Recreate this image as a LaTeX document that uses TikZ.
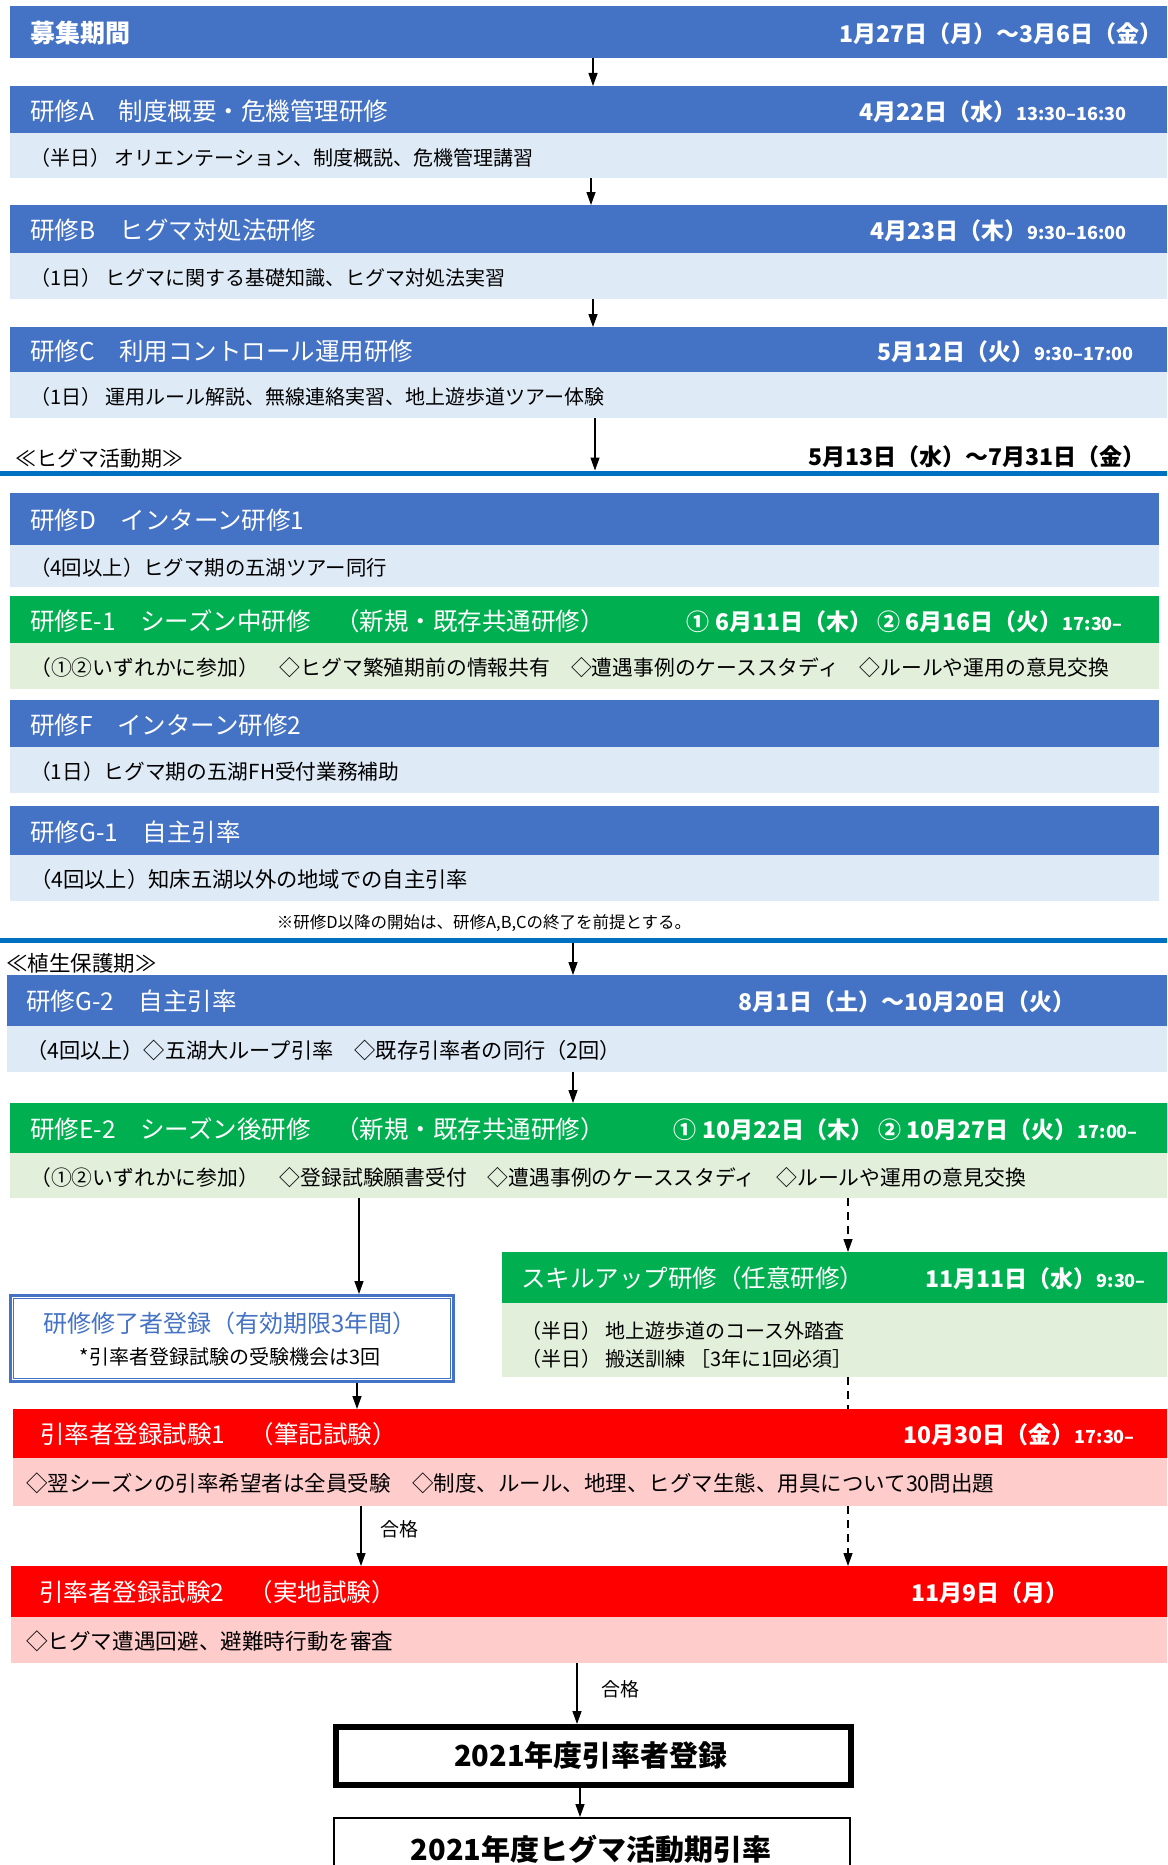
\documentclass[tikz,border=0pt]{standalone}
\usepackage{fontspec}
\setmainfont{Noto Sans CJK JP}
\usetikzlibrary{arrows.meta}
\definecolor{hblue}{HTML}{4472C4}
\definecolor{lblue}{HTML}{DEEAF6}
\definecolor{hgreen}{HTML}{00B050}
\definecolor{lgreen}{HTML}{E2EFDA}
\definecolor{hred}{HTML}{FF0000}
\definecolor{lred}{HTML}{FFCCCC}
\definecolor{sepblue}{HTML}{0070C0}
\newcommand\smalltime[1]{{\fontsize{18}{20}\selectfont #1}}
\newcommand\bodysize[1]{\fontsize{#1}{24}\selectfont}
\tikzset{
  bar/.style={anchor=north west, inner sep=0pt, outer sep=0pt, draw=none},
  titletext/.style={anchor=west, text=white, font=\fontsize{24.5}{28}\selectfont, inner sep=0pt, yshift=-1.5pt},
  datetext/.style={anchor=east, text=white, font=\bfseries\fontsize{23}{27}\selectfont, inner sep=0pt, yshift=-1.5pt},
  bodytext/.style={anchor=west, font=\fontsize{20}{24}\selectfont, inner sep=0pt, yshift=-1.5pt},
  arr/.style={-{Triangle[length=13pt,width=9pt]}, line width=1.3pt},
  dashline/.style={line width=1.3pt, dash pattern=on 8pt off 6pt},
  passlabel/.style={font=\fontsize{19}{22}\selectfont, inner sep=0pt}
}
\begin{document}
\begin{tikzpicture}[x=1pt,y=-1pt]
\useasboundingbox (0,0) rectangle (1167,1865);
\clip (0,0) rectangle (1167,1865);

% ---------- column coordinates ----------
\coordinate (c593) at (593,0);
\coordinate (c591) at (591,0);
\coordinate (c595) at (595,0);
\coordinate (c573) at (573,0);
\coordinate (c359) at (359,0);
\coordinate (c357) at (357,0);
\coordinate (c361) at (361,0);
\coordinate (c848) at (848,0);
\coordinate (c577) at (577,0);
\coordinate (c580) at (580,0);

% ---------- recruitment ----------
\node[bar, fill=hblue, minimum width=1157pt, minimum height=52pt] (recruit) at (10,6) {};
\node[titletext, font=\bfseries\fontsize{25}{28}\selectfont] (recruitT) at (30,32) {募集期間};
\node[datetext] (recruitD) at (1163,32) {1月27日（月）～3月6日（金）};

% ---------- A ----------
\node[bar, fill=hblue, minimum width=1157pt, minimum height=47pt] (Ah) at (10,86) {};
\node[bar, fill=lblue, minimum width=1157pt, minimum height=45pt] (Ab) at (10,133) {};
\node[titletext] (AhT) at (30,110) {研修A　制度概要・危機管理研修};
\node[datetext] (AhD) at (1127,110) {4月22日（水）\smalltime{13:30–16:30}};
\node[bodytext] (AbT) at (30,156) {（半日） オリエンテーション、制度概説、危機管理講習};

% ---------- B ----------
\node[bar, fill=hblue, minimum width=1157pt, minimum height=48pt] (Bh) at (10,205) {};
\node[bar, fill=lblue, minimum width=1157pt, minimum height=46pt] (Bb) at (10,253) {};
\node[titletext] (BhT) at (30,229) {研修B　ヒグマ対処法研修};
\node[datetext] (BhD) at (1127,229) {4月23日（木）\smalltime{9:30–16:00}};
\node[bodytext] (BbT) at (30,276) {（1日） ヒグマに関する基礎知識、ヒグマ対処法実習};

% ---------- C ----------
\node[bar, fill=hblue, minimum width=1157pt, minimum height=45pt] (Ch) at (10,327) {};
\node[bar, fill=lblue, minimum width=1157pt, minimum height=46pt] (Cb) at (10,372) {};
\node[titletext] (ChT) at (30,350) {研修C　利用コントロール運用研修};
\node[datetext] (ChD) at (1134,350) {5月12日（火）\smalltime{9:30–17:00}};
\node[bodytext] (CbT) at (30,395) {（1日） 運用ルール解説、無線連絡実習、地上遊歩道ツアー体験};

% ---------- period 1 ----------
\node[bodytext, font=\fontsize{21}{24}\selectfont] (period1) at (15,457) {≪ヒグマ活動期≫};
\node[datetext, text=black] (period1D) at (1146,455) {5月13日（水）～7月31日（金）};
\draw[sepblue, line width=5pt] (0,473) -- (1167,473);
\coordinate (sep1) at (595,470.5);

% ---------- D ----------
\node[bar, fill=hblue, minimum width=1149pt, minimum height=52pt] (Dh) at (10,493) {};
\node[bar, fill=lblue, minimum width=1149pt, minimum height=42pt] (Db) at (10,545) {};
\node[titletext] (DhT) at (30,519) {研修D　インターン研修1};
\node[bodytext, font=\bodysize{20.4}] (DbT) at (30,566) {（4回以上）ヒグマ期の五湖ツアー同行};

% ---------- E-1 ----------
\node[bar, fill=hgreen, minimum width=1149pt, minimum height=47pt] (E1h) at (10,596) {};
\node[bar, fill=lgreen, minimum width=1149pt, minimum height=46pt] (E1b) at (10,643) {};
\node[titletext] (E1hT) at (30,620) {研修E-1　シーズン中研修　（新規・既存共通研修）};
\node[datetext] (E1hD) at (1123,620) {① 6月11日（木） ② 6月16日（火）\smalltime{17:30–}};
\node[bodytext, font=\bodysize{20.8}] (E1bT) at (30,666) {（①②いずれかに参加）　◇ヒグマ繁殖期前の情報共有　◇遭遇事例のケーススタディ　◇ルールや運用の意見交換};

% ---------- F ----------
\node[bar, fill=hblue, minimum width=1149pt, minimum height=47pt] (Fh) at (10,700) {};
\node[bar, fill=lblue, minimum width=1149pt, minimum height=46pt] (Fb) at (10,747) {};
\node[titletext] (FhT) at (30,724) {研修F　インターン研修2};
\node[bodytext, font=\bodysize{20.7}] (FbT) at (30,770) {（1日）ヒグマ期の五湖FH受付業務補助};

% ---------- G-1 ----------
\node[bar, fill=hblue, minimum width=1149pt, minimum height=49pt] (G1h) at (10,806) {};
\node[bar, fill=lblue, minimum width=1149pt, minimum height=46pt] (G1b) at (10,855) {};
\node[titletext] (G1hT) at (30,831) {研修G-1　自主引率};
\node[bodytext, font=\bodysize{21.3}] (G1bT) at (30,878) {（4回以上）知床五湖以外の地域での自主引率};

\node[font=\fontsize{16.5}{19}\selectfont, inner sep=0pt] (note) at (484,923) {※研修D以降の開始は、研修A,B,Cの終了を前提とする。};

% ---------- period 2 ----------
\draw[sepblue, line width=5pt] (0,940) -- (1167,940);
\coordinate (sep2) at (573,942.5);
\node[bodytext, font=\fontsize{21.5}{24}\selectfont] (period2) at (6,962) {≪植生保護期≫};

% ---------- G-2 ----------
\node[bar, fill=hblue, minimum width=1160pt, minimum height=51pt] (G2h) at (7,975) {};
\node[bar, fill=lblue, minimum width=1160pt, minimum height=46pt] (G2b) at (7,1026) {};
\node[titletext] (G2hT) at (26,1000) {研修G-2　自主引率};
\node[datetext] (G2hD) at (1076,1000) {8月1日（土）～10月20日（火）};
\node[bodytext, font=\bodysize{21.2}] (G2bT) at (26,1049) {（4回以上）◇五湖大ループ引率　◇既存引率者の同行（2回）};

% ---------- E-2 ----------
\node[bar, fill=hgreen, minimum width=1157pt, minimum height=50pt] (E2h) at (10,1103) {};
\node[bar, fill=lgreen, minimum width=1157pt, minimum height=45pt] (E2b) at (10,1153) {};
\node[titletext] (E2hT) at (30,1128) {研修E-2　シーズン後研修　（新規・既存共通研修）};
\node[datetext] (E2hD) at (1138,1128) {① 10月22日（木） ② 10月27日（火）\smalltime{17:00–}};
\node[bodytext, font=\bodysize{20.8}] (E2bT) at (30,1176) {（①②いずれかに参加）　◇登録試験願書受付　◇遭遇事例のケーススタディ　◇ルールや運用の意見交換};

% ---------- skill-up ----------
\node[bar, fill=hgreen, minimum width=665pt, minimum height=51pt] (Skh) at (502,1252) {};
\node[bar, fill=lgreen, minimum width=665pt, minimum height=74pt] (Skb) at (502,1303) {};
\node[titletext] (SkhT) at (521,1277) {スキルアップ研修（任意研修）};
\node[datetext] (SkhD) at (1146,1277) {11月11日（水）\smalltime{9:30–}};
\node[bodytext] (SkbT1) at (521,1329) {（半日） 地上遊歩道のコース外踏査};
\node[bodytext] (SkbT2) at (521,1357) {（半日） 搬送訓練 ［3年に1回必須］};

% ---------- completion registration ----------
\node[anchor=north west, draw=hblue, line width=3pt, fill=white, minimum width=443pt, minimum height=86pt, inner sep=0pt] (done) at (9,1294) {};
\draw[hblue, line width=1pt] ([xshift=4.5pt,yshift=-4.5pt]done.north west) rectangle ([xshift=-4.5pt,yshift=4.5pt]done.south east);
\node[text=hblue, font=\fontsize{24}{28}\selectfont, inner sep=0pt] (doneT1) at (230,1323) {研修修了者登録（有効期限3年間）};
\node[font=\fontsize{20}{24}\selectfont, inner sep=0pt] (doneT2) at (230,1357) {*引率者登録試験の受験機会は3回};

% ---------- exam 1 ----------
\node[bar, fill=hred, minimum width=1154pt, minimum height=49pt] (X1h) at (13,1409) {};
\node[bar, fill=lred, minimum width=1154pt, minimum height=48pt] (X1b) at (13,1458) {};
\node[titletext] (X1hT) at (40,1433) {引率者登録試験1　（筆記試験）};
\node[datetext] (X1hD) at (1135,1433) {10月30日（金）\smalltime{17:30–}};
\node[bodytext, font=\bodysize{21.5}] (X1bT) at (26,1482) {◇翌シーズンの引率希望者は全員受験　◇制度、ルール、地理、ヒグマ生態、用具について30問出題};

% ---------- exam 2 ----------
\node[bar, fill=hred, minimum width=1156pt, minimum height=51pt] (X2h) at (11,1566) {};
\node[bar, fill=lred, minimum width=1156pt, minimum height=46pt] (X2b) at (11,1617) {};
\node[titletext] (X2hT) at (39,1591) {引率者登録試験2　（実地試験）};
\node[datetext] (X2hD) at (1069,1591) {11月9日（月）};
\node[bodytext, font=\bodysize{21.6}] (X2bT) at (26,1640) {◇ヒグマ遭遇回避、避難時行動を審査};

% ---------- final boxes ----------
\node[anchor=north west, draw=black, line width=4pt, fill=white, minimum width=517pt, minimum height=60pt, inner sep=0pt] (reg) at (333,1724) {};
\draw[black, line width=1.3pt] ([xshift=5pt,yshift=-5pt]reg.north west) rectangle ([xshift=-5pt,yshift=5pt]reg.south east);
\node[font=\bfseries\fontsize{29}{32}\selectfont, inner sep=0pt] (regT) at (591,1755) {2021年度引率者登録};
\node[anchor=north west, draw=black, line width=2pt, fill=white, minimum width=516pt, minimum height=90pt, inner sep=0pt] (guide) at (333,1817) {};
\node[font=\bfseries\fontsize{29}{32}\selectfont, inner sep=0pt] (guideT) at (591,1849) {2021年度ヒグマ活動期引率};

% ---------- connectors ----------
\draw[arr] (recruit.south -| c593) -- (Ah.north -| c593);
\draw[arr] (Ab.south -| c591) -- (Bh.north -| c591);
\draw[arr] (Bb.south -| c593) -- (Ch.north -| c593);
\draw[arr] (Cb.south -| c595) -- (sep1);
\draw[arr] (sep2) -- (G2h.north -| c573);
\draw[arr] (G2b.south -| c573) -- (E2h.north -| c573);
\draw[arr] (E2b.south -| c359) -- (done.north -| c359);
\draw[arr, dashline] (E2b.south -| c848) -- (Skh.north -| c848);
\draw[arr] (done.south -| c357) -- (X1h.north -| c357);
\draw[dashline] (Skb.south -| c848) -- (X1h.north -| c848);
\draw[arr] (X1b.south -| c361) -- (X2h.north -| c361);
\node[passlabel] (pass1) at (399,1529) {合格};
\draw[arr, dashline] (X1b.south -| c848) -- (X2h.north -| c848);
\draw[arr] (X2b.south -| c577) -- (reg.north -| c577);
\node[passlabel] (pass2) at (620,1689) {合格};
\draw[arr] (reg.south -| c580) -- (guide.north -| c580);
\end{tikzpicture}
\end{document}
